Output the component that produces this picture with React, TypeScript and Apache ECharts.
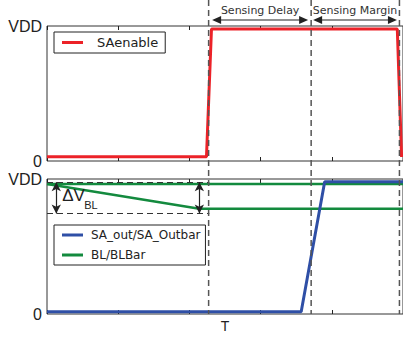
import React, { useEffect, useRef } from 'react';
import * as echarts from 'echarts';

const timeRange = [0, 5];
const eventTimes = [2.27, 3.71, 4.95];
const eventLabels = ['Sensing Delay', 'Sensing Margin'];
const yTickLabels = ['0', 'VDD'];
const xAxisName = 'T';
const deltaLabel = ['ΔV', 'BL'];

const saEnableT = [0, 2.24, 2.31, 4.92, 4.98];
const saEnableV = [0.032, 0.032, 0.978, 0.978, 0.03];
const saOutT = [0, 3.57, 3.9, 5];
const saOutV = [0.017, 0.017, 0.979, 0.979];
const blT = [0, 5];
const blV = [0.963, 0.963];
const blBarT = [0, 2.14, 5];
const blBarV = [0.963, 0.78, 0.78];
const deltaLevels = [0.976, 0.744];
const deltaSpan = [0, 2.28];
const deltaArrowT = [0.13, 2.14];

const zip = (t: number[], v: number[]) => t.map((x, i) => [x, v[i]]);

const RED = '#ec2228';
const BLUE = '#2f4fa6';
const GREEN = '#138a3e';
const INK = '#222';

function xAxisDef(gridIndex: number, position: 'bottom' | 'top', withName: boolean) {
  return {
    type: 'value',
    gridIndex,
    position,
    min: timeRange[0],
    max: timeRange[1],
    interval: 1,
    axisLine: { show: false },
    axisTick: { show: true, inside: true, length: 4, lineStyle: { color: INK, width: 1 } },
    axisLabel: { show: false },
    splitLine: { show: false },
    name: withName ? xAxisName : '',
    nameLocation: 'middle',
    nameGap: 5,
    nameTextStyle: { fontFamily: 'Liberation Sans', fontSize: 14, color: INK, verticalAlign: 'top' },
  };
}

function yAxisDef(gridIndex: number) {
  return {
    type: 'value',
    gridIndex,
    min: 0,
    max: 1,
    interval: 1,
    axisLine: { show: false },
    axisTick: { show: false },
    splitLine: { show: false },
    axisLabel: {
      margin: 5,
      fontFamily: 'Liberation Sans',
      fontSize: 16,
      color: INK,
      formatter: (v: number) => yTickLabels[Math.round(v)],
    },
  };
}

export default function App() {
  const ref = useRef<HTMLDivElement>(null);
  useEffect(() => {
    if (!ref.current) return;
    const chart = echarts.init(ref.current, undefined, { renderer: 'svg' });
    const option: any = {
      animation: false,
      backgroundColor: '#fff',
      grid: [
        { left: 47, top: 26, width: 357, height: 135, show: true, borderColor: '#333', borderWidth: 1, backgroundColor: 'transparent' },
        { left: 47, top: 179, width: 357, height: 135, show: true, borderColor: '#333', borderWidth: 1, backgroundColor: 'transparent' },
      ],
      xAxis: [
        xAxisDef(0, 'bottom', false),
        xAxisDef(0, 'top', false),
        xAxisDef(1, 'bottom', true),
        xAxisDef(1, 'top', false),
      ],
      yAxis: [yAxisDef(0), yAxisDef(1)],
      legend: [
        {
          data: ['SAenable'],
          left: 54,
          top: 32,
          selectedMode: false,
          icon: 'rect',
          itemWidth: 21,
          itemHeight: 3,
          padding: [4, 7, 4, 8],
          borderColor: INK,
          borderWidth: 1,
          backgroundColor: '#fff',
          textStyle: { fontFamily: 'DejaVu Sans', fontSize: 13, color: INK, padding: [0, 0, 0, 9] },
        },
        {
          data: ['SA_out/SA_Outbar', 'BL/BLBar'],
          left: 54,
          top: 225,
          orient: 'vertical',
          selectedMode: false,
          icon: 'rect',
          itemWidth: 21,
          itemHeight: 3,
          itemGap: 8,
          padding: [4, 5, 4, 8],
          borderColor: INK,
          borderWidth: 1,
          backgroundColor: '#fff',
          textStyle: { fontFamily: 'DejaVu Sans', fontSize: 12, color: INK, padding: [0, 0, 0, 3] },
        },
      ],
      series: [
        {
          name: 'SAenable',
          type: 'line',
          xAxisIndex: 0,
          yAxisIndex: 0,
          data: zip(saEnableT, saEnableV),
          showSymbol: false,
          symbol: 'none',
          color: RED,
          lineStyle: { color: RED, width: 3 },
          z: 3,
        },
        {
          name: 'BL/BLBar',
          type: 'line',
          xAxisIndex: 2,
          yAxisIndex: 1,
          data: zip(blT, blV),
          showSymbol: false,
          symbol: 'none',
          color: GREEN,
          lineStyle: { color: GREEN, width: 2.5 },
          z: 3,
          markLine: {
            silent: true,
            symbol: 'none',
            label: { show: false },
            lineStyle: { color: '#333', width: 1.2, type: [6, 4] },
            data: deltaLevels.map((lv) => [{ coord: [deltaSpan[0], lv] }, { coord: [deltaSpan[1], lv] }]),
          },
        },
        {
          name: 'BL/BLBar',
          type: 'line',
          xAxisIndex: 2,
          yAxisIndex: 1,
          data: zip(blBarT, blBarV),
          showSymbol: false,
          symbol: 'none',
          color: GREEN,
          lineStyle: { color: GREEN, width: 2.5 },
          z: 3,
          markLine: {
            silent: true,
            symbol: ['arrow', 'arrow'],
            symbolSize: [7, 9],
            label: { show: false },
            lineStyle: { color: INK, width: 1.2, type: 'solid' },
            itemStyle: { color: INK },
            data: deltaArrowT.map((t) => [{ coord: [t, deltaLevels[0]] }, { coord: [t, deltaLevels[1]] }]),
          },
        },
        {
          name: 'SA_out/SA_Outbar',
          type: 'line',
          xAxisIndex: 2,
          yAxisIndex: 1,
          data: zip(saOutT, saOutV),
          showSymbol: false,
          symbol: 'none',
          color: BLUE,
          lineStyle: { color: BLUE, width: 3 },
          z: 4,
        },
      ],
    };
    chart.setOption(option);

    const px = (t: number) => chart.convertToPixel({ xAxisIndex: 0 } as any, t) as number;
    const pyTop = (v: number) => chart.convertToPixel({ yAxisIndex: 0 } as any, v) as number;
    const pyBot = (v: number) => chart.convertToPixel({ yAxisIndex: 1 } as any, v) as number;
    const topY = pyTop(1);
    const bottomY = pyBot(0);
    const arrowY = topY - 6;
    const graphic: any[] = [];
    eventTimes.forEach((t) => {
      const x = px(t);
      graphic.push({
        type: 'line',
        silent: true,
        z: 10,
        shape: { x1: x, y1: 0, x2: x, y2: bottomY },
        style: { stroke: '#555', lineWidth: 1.5, lineDash: [6, 4] },
      });
    });
    const gaps = [[3.5, 3], [2, 2.5]];
    eventLabels.forEach((label, i) => {
      const x1 = px(eventTimes[i]) + gaps[i][0];
      const x2 = px(eventTimes[i + 1]) - gaps[i][1];
      graphic.push({
        type: 'line',
        silent: true,
        z: 10,
        shape: { x1: x1 + 2, y1: arrowY, x2: x2 - 2, y2: arrowY },
        style: { stroke: INK, lineWidth: 1.2 },
      });
      graphic.push({
        type: 'polygon',
        silent: true,
        z: 10,
        shape: { points: [[x1, arrowY], [x1 + 9, arrowY - 4], [x1 + 9, arrowY + 4]] },
        style: { fill: INK },
      });
      graphic.push({
        type: 'polygon',
        silent: true,
        z: 10,
        shape: { points: [[x2, arrowY], [x2 - 9, arrowY - 4], [x2 - 9, arrowY + 4]] },
        style: { fill: INK },
      });
      graphic.push({
        type: 'text',
        silent: true,
        z: 10,
        style: {
          text: label,
          x: (x1 + x2) / 2,
          y: arrowY - 10,
          fontFamily: 'DejaVu Sans',
          fontSize: 11,
          fill: '#333',
          align: 'center',
          textAlign: 'center',
          verticalAlign: 'middle',
          textVerticalAlign: 'middle',
        },
      });
    });
    const dx = px(deltaArrowT[0]) + 6;
    const dy = (pyBot(deltaLevels[0]) + pyBot(deltaLevels[1])) / 2;
    graphic.push({
      type: 'text',
      silent: true,
      z: 10,
      style: {
        text: deltaLabel[0],
        x: dx,
        y: dy - 2,
        fontFamily: 'Liberation Sans',
        fontSize: 17,
        fill: INK,
        align: 'left',
        textAlign: 'left',
        verticalAlign: 'middle',
        textVerticalAlign: 'middle',
      },
    });
    graphic.push({
      type: 'text',
      silent: true,
      z: 10,
      style: {
        text: deltaLabel[1],
        x: dx + 22,
        y: dy + 7,
        fontFamily: 'Liberation Sans',
        fontSize: 11,
        fill: INK,
        align: 'left',
        textAlign: 'left',
        verticalAlign: 'middle',
        textVerticalAlign: 'middle',
      },
    });
    chart.setOption({ graphic });

    return () => chart.dispose();
  }, []);
  return (
    <div
      ref={ref}
      style={{ position: 'fixed', left: 0, top: 0, width: 403, height: 339, background: '#fff' }}
    />
  );
}
